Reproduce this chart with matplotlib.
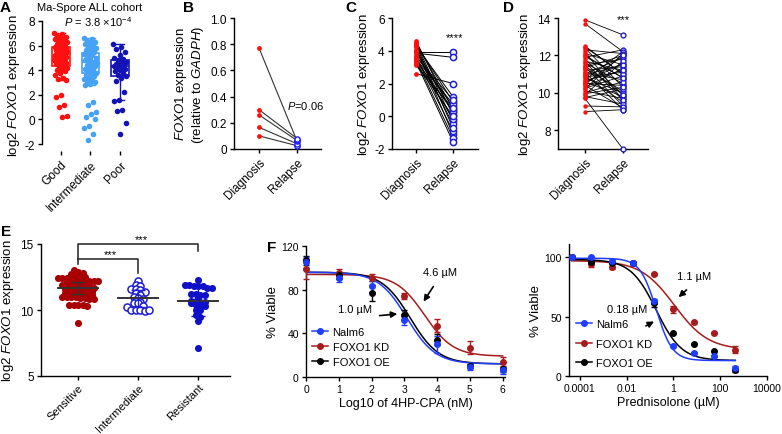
import numpy as np
import matplotlib
matplotlib.use('Agg')
import matplotlib.pyplot as plt
from matplotlib.lines import Line2D

plt.rcParams['font.family'] = ['Liberation Sans', 'DejaVu Sans']
plt.rcParams['mathtext.fontset'] = 'custom'
plt.rcParams['mathtext.rm'] = 'Liberation Sans'
plt.rcParams['mathtext.it'] = 'Liberation Sans:italic'
plt.rcParams['axes.unicode_minus'] = False
plt.rcParams['axes.linewidth'] = 1.0
plt.rcParams['xtick.major.width'] = 1.0
plt.rcParams['ytick.major.width'] = 1.0
plt.rcParams['xtick.major.size'] = 3.2
plt.rcParams['ytick.major.size'] = 3.2
plt.rcParams['xtick.major.pad'] = 2
plt.rcParams['ytick.major.pad'] = 2

# ---- data ----
# A: Ma-Spore ALL cohort
a_groups = ['Good', 'Intermediate', 'Poor']
a_good = [7.0, 6.9, 6.8, 6.7, 6.6, 6.5, 6.5, 6.4, 6.3, 6.2, 6.1, 6.0, 6.0, 5.9, 5.9,
          5.8, 5.7, 5.7, 5.6, 5.6, 5.5, 5.5, 5.4, 5.4, 5.3, 5.3, 5.2, 5.2, 5.1, 5.1,
          5.0, 5.0, 4.9, 4.9, 4.8, 4.8, 4.7, 4.6, 4.6, 4.5, 4.4, 4.3, 4.2, 4.1, 4.0,
          3.9, 3.8, 3.6, 3.4, 3.3, 3.2, 2.0, 1.8, 1.2, 1.0, 0.3, 0.2]
a_inter = [6.6, 6.5, 6.4, 6.3, 6.2, 6.1, 6.0, 5.9, 5.8, 5.7, 5.6, 5.5, 5.4, 5.3, 5.2,
           5.1, 5.0, 4.9, 4.8, 4.7, 4.7, 4.6, 4.5, 4.4, 4.3, 4.2, 4.1, 4.0, 3.9, 3.8,
           3.7, 3.6, 3.5, 3.4, 3.3, 3.2, 3.1, 3.0, 2.9, 2.8, 1.4, 1.2, 0.6, 0.4, 0.2,
           0.0, -0.5, -0.7, -1.2, -1.7]
a_poor = [6.1, 5.9, 5.7, 5.5, 5.2, 5.0, 4.9, 4.8, 4.7, 4.6, 4.5, 4.4, 4.4, 4.3, 4.3,
          4.2, 4.1, 4.0, 3.9, 3.8, 3.6, 3.5, 3.4, 3.1, 2.2, 1.6, 1.5, 0.8, 0.7, -0.3, -1.2]
a_q1 = [4.3, 3.8, 3.5]
a_med = [5.1, 4.7, 4.3]
a_q3 = [5.9, 5.4, 4.85]
a_whislo = [3.2, 2.8, 1.6]
a_whishi = [7.0, 6.6, 6.1]

# B: qPCR, diagnosis vs relapse
b_diag = [0.77, 0.30, 0.26, 0.165, 0.10]
b_rel = [0.06, 0.08, 0.065, 0.04, 0.025]

# C: paired diagnosis / relapse
c_diag = [4.6, 4.5, 4.45, 4.4, 4.3, 4.2, 3.9, 4.05, 4.0, 3.85, 3.7, 3.6, 3.55,
          3.5, 3.45, 3.4, 3.3, 3.2, 3.1, 4.35, 3.65, 2.6]
c_rel = [0.1, 0.45, -0.3, 0.9, 1.2, -1.1, 3.9, 0.25, -0.5, 3.6, 0.6, -0.9, -0.15,
         0.75, -1.3, 0.3, -1.55, 0.0, 0.5, -0.7, 1.0, 2.0]

# D: paired diagnosis / relapse
d_diag = [13.9, 13.7, 12.5, 12.4, 12.3, 12.2, 12.1, 12.0, 11.9, 11.8, 11.7, 11.6,
          11.5, 11.4, 11.35, 11.3, 11.2, 11.1, 11.05, 11.0, 10.9, 10.85, 10.8, 10.7,
          10.6, 10.55, 10.5, 10.4, 10.3, 10.25, 10.2, 10.1, 10.0, 9.9, 9.8, 9.75,
          9.7, 12.45, 11.95, 11.45, 10.95, 10.45, 9.95, 11.65, 10.65, 9.3, 9.0]
d_rel = [13.1, 12.2, 11.0, 10.3, 12.1, 9.6, 11.5, 10.8, 12.3, 9.9, 11.2, 10.5,
         11.8, 9.3, 12.0, 10.1, 11.4, 9.1, 10.7, 11.9, 9.5, 11.1, 10.0, 12.2, 9.8,
         11.6, 10.4, 9.2, 11.3, 10.9, 12.1, 9.7, 10.6, 11.7, 9.4, 10.2, 7.0, 11.0,
         10.8, 9.9, 11.5, 12.0, 10.3, 9.6, 11.2, 9.25, 9.1]

# E: drug response groups
e_groups = ['Sensitive', 'Intermediate', 'Resistant']
e_sens = [13.0, 12.9, 12.8, 12.7, 12.6, 12.5, 12.5, 12.4, 12.4, 12.4, 12.3, 12.3,
          12.3, 12.2, 12.2, 12.2, 12.2, 12.1, 12.1, 12.1, 12.0, 12.0, 12.0, 11.9,
          11.9, 11.9, 11.8, 11.8, 11.8, 11.7, 11.7, 11.6, 11.6, 11.6, 11.5, 11.5,
          11.4, 11.4, 11.3, 11.3, 11.2, 11.2, 11.1, 11.1, 11.1, 11.0, 11.0, 11.0,
          11.0, 10.9, 10.9, 10.8, 10.8, 10.4, 10.4, 10.35, 10.4, 10.3, 9.0]
e_inter = [12.2, 11.9, 11.8, 11.6, 11.6, 11.5, 11.4, 11.3, 11.1, 11.0, 10.9, 10.8,
           10.7, 10.6, 10.5, 10.5, 10.3, 10.2, 10.0, 10.0, 10.0, 9.95, 10.0]
e_res = [12.3, 11.9, 11.9, 11.8, 11.8, 11.8, 11.7, 11.7, 11.2, 11.2, 11.1, 11.1,
         11.0, 10.7, 10.7, 10.6, 10.6, 10.5, 10.4, 10.3, 10.3, 10.0, 10.0, 9.9,
         9.6, 9.5, 9.2, 7.1]
e_mean = [11.65, 10.9, 10.7]
e_sd = [0.45, 0.65, 1.15]

# F left: 4HP-CPA
fl_x = [0, 1, 2, 3, 4, 5, 6]
fl_nalm6 = [105, 91, 83, 52, 30, 9, 6]
fl_nalm6_err = [5, 4, 5, 4, 8, 3, 3]
fl_kd = [99, 95, 91, 74, 47, 27, 14]
fl_kd_err = [9, 4, 3, 3, 6, 6, 4]
fl_oe = [107, 93, 77, 57, 34, 10, 7]
fl_oe_err = [4, 3, 7, 4, 5, 2, 2]
# fitted 4PL: top, bottom, logIC50, hill
fl_fit_nalm6 = [96, 12, 3.08, 1.0]
fl_fit_kd = [94, 19, 3.62, 1.0]
fl_fit_oe = [96, 12, 3.18, 1.0]

# F right: prednisolone (uM)
fr_x = [4.4e-5, 3.0e-4, 2.3e-3, 1.8e-2, 0.14, 1.0, 7.6, 56, 440]
fr_nalm6 = [100, 100, 97, 95, 63, 25, 19.5, 17, 7]
fr_nalm6_err = [0, 0, 1, 1, 2, 1, 1, 1, 1]
fr_kd = [100, 94, 92, 95, 86, 56, 45, 36, 22]
fr_kd_err = [0, 2, 2, 0, 1, 3, 1, 1, 3]
fr_oe = [100, 95.5, 95, 95, 61, 36, 26.5, 21, 5]
fr_oe_err = [0, 0, 0, 1, 3, 0, 0, 0, 1.5]
fr_fit_nalm6 = [99, 13, -0.74, 1.25]
fr_fit_kd = [97, 22, 0.04, 0.6]
fr_fit_oe = [98, 13, -0.74, 0.8]

# ---- colours ----
RED = '#ff1010'
LBLUE = '#45a2f5'
DBLUE = '#1414b4'
OBLUE = '#1e1ed2'
DRED = '#a80000'
FBLUE = '#1f3cff'
FRED = '#a61c1c'

W, H = 782, 435
fig = plt.figure(figsize=(W / 100, H / 100), dpi=100)


def px_axes(l, t, r, b):
    return fig.add_axes([l / W, 1 - b / H, (r - l) / W, (b - t) / H])


def clean(ax):
    for s in ['top', 'right']:
        ax.spines[s].set_visible(False)
    ax.tick_params(labelsize=8.5, color='k')


def swarm(vals, step, dx):
    vals = np.asarray(vals)
    offs = np.zeros(len(vals))
    bins = np.round(vals / step)
    for b in np.unique(bins):
        idx = np.where(bins == b)[0]
        offs[idx] = (np.arange(len(idx)) - (len(idx) - 1) / 2) * dx
    return offs


def jitter(n, width):
    return ((np.arange(n) * 0.618034) % 1 - 0.5) * width


def logistic(x, p):
    top, bot, lic, h = p
    return bot + (top - bot) / (1 + 10 ** ((x - lic) * h))


# ---- A ----
ax = px_axes(42, 19.5, 137, 152.4)
clean(ax)
cols = [RED, LBLUE, DBLUE]
stats = []
for i in range(3):
    stats.append(dict(med=a_med[i], q1=a_q1[i], q3=a_q3[i], whislo=a_whislo[i],
                      whishi=a_whishi[i], fliers=[]))
for i, (vals, c) in enumerate(zip([a_good, a_inter, a_poor], cols)):
    ax.bxp([stats[i]], positions=[i], widths=0.6, patch_artist=True,
           boxprops=dict(facecolor='white', edgecolor=c, lw=1.2),
           medianprops=dict(color=c, lw=1.2), whiskerprops=dict(color=c, lw=1),
           capprops=dict(color=c, lw=1), capwidths=0.3, showfliers=False)
    ax.scatter(i + jitter(len(vals), 0.45), vals, s=16, color=c, lw=0, zorder=3)
ax.set_xlim(-0.64, 2.58)
ax.set_ylim(-2.6, 8.2)
ax.spines['bottom'].set_visible(False)
ax.spines['left'].set_bounds(-2, 8)
ax.set_yticks([-2, 0, 2, 4, 6, 8])
ax.set_xticks([0, 1, 2])
ax.set_xticklabels(a_groups, rotation=45, ha='right', rotation_mode='anchor')
ax.set_ylabel('log2 $\\it{FOXO1}$ expression', fontsize=9.5, labelpad=2)
fig.text(90 / W, 1 - 8 / H, 'Ma-Spore ALL cohort', ha='center', va='center', fontsize=8)
fig.text(98 / W, 1 - 22.5 / H, '$\\it{P}$ = 3.8 \u00d710$^{-4}$', ha='center',
         va='center', fontsize=8)

# ---- B ----
ax = px_axes(234, 19, 321, 150)
clean(ax)
for d, r in zip(b_diag, b_rel):
    ax.plot([0, 1], [d, r], color='#333333', lw=0.8, zorder=1)
ax.scatter(np.zeros(len(b_diag)), b_diag, s=12, color=RED, lw=0, zorder=3)
ax.scatter(np.ones(len(b_rel)), sorted(b_rel), s=14, facecolor='white',
           edgecolor='#1a1aff', lw=1, zorder=3)
ax.set_xlim(-0.66, 1.63)
ax.set_ylim(0, 1.0)
ax.set_yticks([0, 0.2, 0.4, 0.6, 0.8, 1.0])
ax.set_yticklabels(['0', '0.2', '0.4', '0.6', '0.8', '1.0'])
ax.set_xticks([0, 1])
ax.set_xticklabels(['Diagnosis', 'Relapse'], rotation=45, ha='right', rotation_mode='anchor')
ax.set_ylabel('$\\it{FOXO1}$ expression\n(relative to $\\it{GADPH}$)', fontsize=9.5,
              labelpad=3, linespacing=1.1)
ax.text(0.73, 0.335, '$\\it{P}$=0.06', fontsize=8, va='center', ha='left')

# ---- C ----
ax = px_axes(392, 19, 478, 150)
clean(ax)
for d, r in zip(c_diag, c_rel):
    ax.plot([0, 1], [d, r], color='k', lw=0.7, zorder=1)
ax.scatter(np.zeros(len(c_diag)), c_diag, s=12, color=RED, lw=0, zorder=3)
ax.scatter(np.ones(len(c_rel)), c_rel, s=20, facecolor='white', edgecolor=OBLUE,
           lw=1.1, zorder=3)
ax.set_xlim(-0.65, 1.68)
ax.set_ylim(-2, 6)
ax.set_yticks([-2, 0, 2, 4, 6])
ax.set_xticks([0, 1])
ax.set_xticklabels(['Diagnosis', 'Relapse'], rotation=45, ha='right', rotation_mode='anchor')
ax.set_ylabel('log2 $\\it{FOXO1}$ expression', fontsize=9.5, labelpad=2)
ax.text(1.05, 4.85, '****', fontsize=8, ha='center', va='center')

# ---- D ----
ax = px_axes(558, 19, 648, 150)
clean(ax)
for d, r in zip(d_diag, d_rel):
    ax.plot([0, 1], [d, r], color='k', lw=0.6, zorder=1)
ax.scatter(np.zeros(len(d_diag)), d_diag, s=10, color=RED, lw=0, zorder=3, clip_on=False)
ax.scatter(np.ones(len(d_rel)), d_rel, s=12, facecolor='white', edgecolor=OBLUE,
           lw=1.0, zorder=3, clip_on=False)
ax.set_xlim(-0.71, 1.66)
ax.set_ylim(7, 14)
ax.set_yticks([8, 10, 12, 14])
ax.set_xticks([0, 1])
ax.set_xticklabels(['Diagnosis', 'Relapse'], rotation=45, ha='right', rotation_mode='anchor')
ax.set_ylabel('log2 $\\it{FOXO1}$ expression', fontsize=9.5, labelpad=3)
ax.text(1.0, 13.95, '***', fontsize=8, ha='center', va='center')

# ---- E ----
ax = px_axes(41, 245, 230, 377)
clean(ax)
ax.tick_params(axis='x', labelsize=8, pad=1)
e_sets = [e_sens, e_inter, e_res]
e_face = [DRED, 'white', '#1010c8']
e_edge = [DRED, OBLUE, '#1010c8']
for i, vals in enumerate(e_sets):
    ax.scatter(i + swarm(vals, 0.28, 0.075), vals, s=26, facecolor=e_face[i],
               edgecolor=e_edge[i], lw=1.1 if i == 1 else 0, zorder=2)
    c = '#333333'
    ax.plot([i - 0.33, i + 0.33], [e_mean[i]] * 2, color=c, lw=1.4, zorder=3)
    ax.errorbar(i, e_mean[i], yerr=e_sd[i], color=e_edge[i] if i else c, lw=1.0,
                capsize=5, capthick=1.0, zorder=3)
ax.set_xlim(-0.62, 2.53)
ax.set_ylim(5, 15)
ax.set_yticks([5, 10, 15])
ax.set_xticks([0, 1, 2])
ax.set_xticklabels(e_groups, rotation=45, ha='right', rotation_mode='anchor')
ax.set_ylabel('log2 $\\it{FOXO1}$ expression', fontsize=9.5, labelpad=3)
ax.plot([0, 0, 2, 2], [13.45, 15, 15, 14.47], color='#222222', lw=1.1, clip_on=False)
ax.plot([0, 1, 1], [13.86, 13.86, 12.8], color='#222222', lw=1.1, clip_on=False)
ax.text(1.06, 15.4, '***', fontsize=8, ha='center', va='center')
ax.text(0.53, 14.25, '***', fontsize=8, ha='center', va='center')

# ---- F left ----
ax = px_axes(306, 247, 505, 378)
clean(ax)
ax.tick_params(labelsize=7.5)
xx = np.linspace(0, 6, 300)
for y, e, p, c in [(fl_kd, fl_kd_err, fl_fit_kd, FRED),
                   (fl_oe, fl_oe_err, fl_fit_oe, 'k'),
                   (fl_nalm6, fl_nalm6_err, fl_fit_nalm6, FBLUE)]:
    ax.plot(xx, logistic(xx, p), color=c, lw=1.1, zorder=2)
    ax.errorbar(fl_x, y, yerr=e, fmt='o', ms=4, color=c, lw=1.0, capsize=2.5,
                capthick=1.0, zorder=3, clip_on=False)
ax.set_xlim(0, 6.07)
ax.set_ylim(0, 120)
ax.set_yticks([0, 40, 80, 120])
ax.set_xticks(fl_x)
ax.set_xlabel('Log10 of 4HP-CPA (nM)', fontsize=9, labelpad=2)
ax.set_ylabel('% Viable', fontsize=9.5, labelpad=2)
ax.annotate('', xy=(3.54, 67), xytext=(3.93, 85),
            arrowprops=dict(arrowstyle='-|>', color='k', lw=1.2, mutation_scale=9))
ax.text(4.09, 96, '4.6 \u00b5M', fontsize=8, ha='center', va='center')
ax.annotate('', xy=(2.87, 58), xytext=(2.16, 56),
            arrowprops=dict(arrowstyle='-|>', color='k', lw=1.2, mutation_scale=9))
ax.text(1.49, 62, '1.0 \u00b5M', fontsize=8, ha='center', va='center')
handles = [Line2D([], [], color=c, marker='o', ms=4, lw=1.1) for c in [FBLUE, FRED, 'k']]
ax.legend(handles, ['Nalm6', 'FOXO1 KD', 'FOXO1 OE'], loc='upper left',
          bbox_to_anchor=(0.03, 0.38), frameon=False, fontsize=8, borderpad=0,
          borderaxespad=0, handlelength=1.45, handletextpad=0.4, labelspacing=0.45)
fig.text(272 / W, 1 - 248 / H, 'F', fontsize=11, fontweight='bold', ha='center', va='center')

# ---- F right ----
ax = px_axes(569, 245, 767, 377)
clean(ax)
ax.tick_params(labelsize=7.5)
ax.set_xscale('log')
lx = np.linspace(np.log10(fr_x[0]), np.log10(fr_x[-1]), 300)
for y, e, p, c in [(fr_kd, fr_kd_err, fr_fit_kd, FRED),
                   (fr_oe, fr_oe_err, fr_fit_oe, 'k'),
                   (fr_nalm6, fr_nalm6_err, fr_fit_nalm6, FBLUE)]:
    ax.plot(10 ** lx, logistic(lx, p), color=c, lw=1.1, zorder=2)
    ax.errorbar(fr_x, y, yerr=e, fmt='o', ms=4, color=c, lw=1.0, capsize=2.5,
                capthick=1.0, zorder=3)
ax.set_xlim(10 ** -4.47, 1e4)
ax.set_ylim(0, 111)
ax.set_yticks([0, 50, 100])
ax.set_xticks([1e-4, 1e-2, 1, 1e2, 1e4])
ax.set_xticklabels(['0.0001', '0.01', '1', '100', '10000'])
ax.minorticks_off()
ax.set_xlabel('Prednisolone (\u00b5M)', fontsize=9, labelpad=2)
ax.set_ylabel('% Viable', fontsize=9.5, labelpad=2)
ax.annotate('', xy=(1.35, 64.7), xytext=(4.4, 74),
            arrowprops=dict(arrowstyle='-|>', color='k', lw=1.2, mutation_scale=9))
ax.text(7.9, 84, '1.1 \u00b5M', fontsize=8, ha='center', va='center')
ax.annotate('', xy=(0.187, 47), xytext=(0.052, 41),
            arrowprops=dict(arrowstyle='-|>', color='k', lw=1.2, mutation_scale=9))
ax.text(0.0108, 56, '0.18 \u00b5M', fontsize=8, ha='center', va='center')
handles = [Line2D([], [], color=c, marker='o', ms=4, lw=1.1) for c in [FBLUE, FRED, 'k']]
ax.legend(handles, ['Nalm6', 'FOXO1 KD', 'FOXO1 OE'], loc='upper left',
          bbox_to_anchor=(0.035, 0.43), frameon=False, fontsize=8, borderpad=0,
          borderaxespad=0, handlelength=1.45, handletextpad=0.4, labelspacing=0.85)

# panel letters
for lab, x, y in [('A', 5, 8), ('B', 188, 8), ('C', 351, 8), ('D', 508, 8), ('E', 6, 232)]:
    fig.text(x / W, 1 - y / H, lab, fontsize=11, fontweight='bold', ha='center', va='center')

fig.savefig('out.png', dpi=100)
